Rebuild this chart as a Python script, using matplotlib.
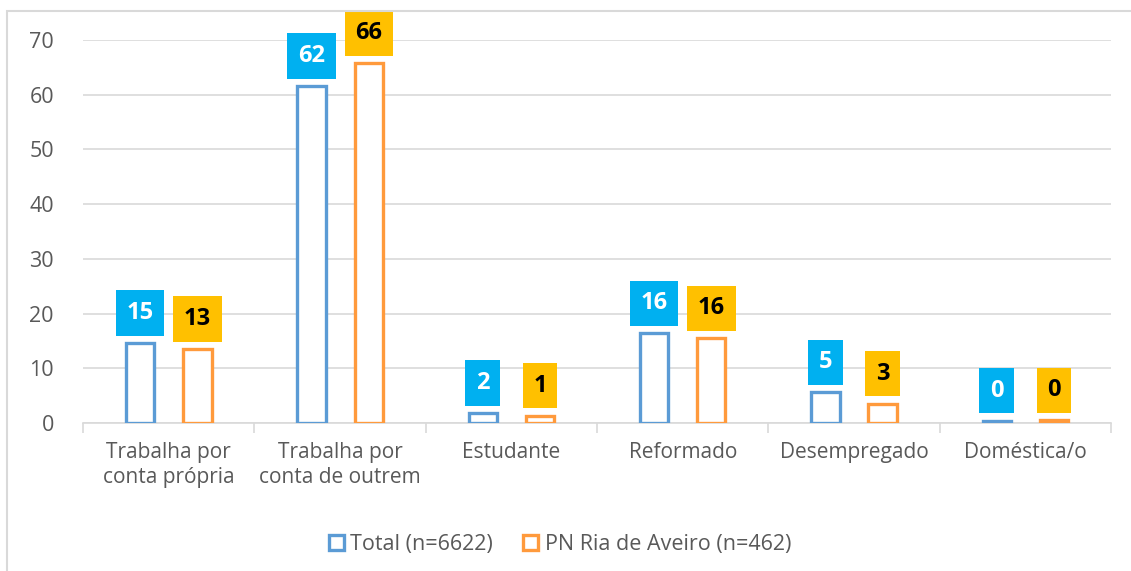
import matplotlib.pyplot as plt
import matplotlib.patches as mpatches
import numpy as np

# data
categories = ['Trabalha por\nconta própria', 'Trabalha por\nconta de outrem', 'Estudante',
              'Reformado', 'Desempregado', 'Doméstica/o']
total = [14.6, 61.6, 1.8, 16.4, 5.6, 0.4]
ria = [13.5, 65.8, 1.3, 15.5, 3.5, 0.5]
total_lbl = ['15', '62', '2', '16', '5', '0']
ria_lbl = ['13', '66', '1', '16', '3', '0']
series_names = ['Total (n=6622)', 'PN Ria de Aveiro (n=462)']

plt.rcParams['font.family'] = ['Open Sans', 'DejaVu Sans']

blue = '#5B9BD5'
orange = '#FF9A3C'
grey_txt = '#595959'
grid_c = '#D9D9D9'

fig = plt.figure(figsize=(11.31, 5.71), dpi=100)
ax = fig.add_axes([0.0735, 0.2592, 0.9088, 0.6708])

# outer chart border
fig.patches.append(mpatches.Rectangle((7 / 1131, -0.1), 1.2, 1 - 10.5 / 571 + 0.1,
                                      transform=fig.transFigure, fill=False,
                                      edgecolor='#D9D9D9', linewidth=1.5))

x = np.arange(len(categories))
off = 0.167
w = 0.165
ax.bar(x - off, total, w, facecolor='white', edgecolor=blue, linewidth=2.4, zorder=3)
ax.bar(x + off, ria, w, facecolor='white', edgecolor=orange, linewidth=2.4, zorder=3)

for xi, v, s in zip(x, total, total_lbl):
    ax.annotate(s, (xi - off, v), xytext=(0, 13), textcoords='offset points',
                ha='center', va='bottom', fontsize=17, fontweight='bold', color='white',
                bbox=dict(boxstyle='square,pad=0.45', facecolor='#00B0F0', edgecolor='none'),
                zorder=5)
for xi, v, s in zip(x, ria, ria_lbl):
    ax.annotate(s, (xi + off, v), xytext=(0, 13), textcoords='offset points',
                ha='center', va='bottom', fontsize=17, fontweight='bold', color='black',
                bbox=dict(boxstyle='square,pad=0.45', facecolor='#FFC000', edgecolor='none'),
                zorder=5)

ax.set_xlim(-0.5, 5.5)
ax.set_ylim(0, 70)
ax.set_yticks(range(0, 71, 10))
ax.yaxis.grid(True, color=grid_c, linewidth=1.2, zorder=0)
ax.tick_params(axis='y', length=0, pad=21, labelsize=15.5, labelcolor=grey_txt)

ax.set_xticks(x)
ax.set_xticklabels(categories, linespacing=1.2)
ax.tick_params(axis='x', length=0, pad=14, labelsize=15, labelcolor=grey_txt)
ax.set_xticks(np.arange(-0.5, 6, 1), minor=True)
ax.tick_params(axis='x', which='minor', length=7, color=grid_c, width=1.2)

for sp in ['top', 'right', 'left']:
    ax.spines[sp].set_visible(False)
ax.spines['bottom'].set_color(grid_c)
ax.spines['bottom'].set_linewidth(1.2)

handles = [mpatches.Patch(facecolor='white', edgecolor=blue, linewidth=2.4),
           mpatches.Patch(facecolor='white', edgecolor=orange, linewidth=2.4)]
leg = fig.legend(handles, series_names, loc='center', bbox_to_anchor=(0.495, 0.046),
                 ncol=2, frameon=False, fontsize=15.5, handlelength=0.7, handleheight=0.7,
                 handletextpad=0.3, columnspacing=1.4)
for t in leg.get_texts():
    t.set_color(grey_txt)

fig.savefig('out.png', dpi=100)
